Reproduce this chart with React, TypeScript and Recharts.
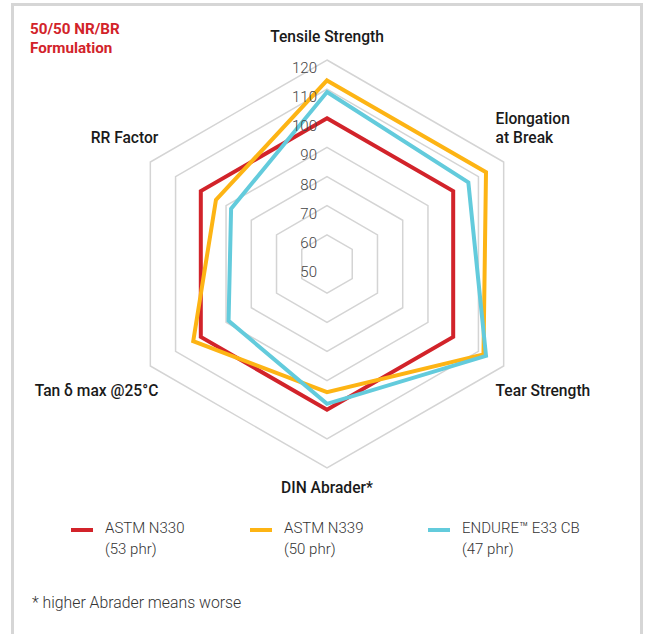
import React from 'react';
import { RadarChart, Radar, PolarGrid, PolarAngleAxis, PolarRadiusAxis } from 'recharts';

const categories = ['Tensile Strength', 'Elongation at Break', 'Tear Strength', 'DIN Abrader*', 'Tan δ max @25°C', 'RR Factor'];
const n330Values = [100, 100, 100, 100, 100, 100];
const n339Values = [113, 113, 112, 94, 103, 94];
const e33Values = [109, 106, 113, 98, 89, 88];
const radiusTicks = [50, 60, 70, 80, 90, 100, 110, 120];
const seriesNames = ['ASTM N330', 'ASTM N339', 'ENDURE™ E33 CB'];
const seriesSub = ['(53 phr)', '(50 phr)', '(47 phr)'];
const seriesColors = ['#d2232a', '#fdb414', '#63cbdc'];
const labelLines: Record<string, string[]> = {
  'Elongation at Break': ['Elongation', 'at Break'],
};

const data = categories.map((c, i) => ({
  cat: c,
  n330: n330Values[i],
  n339: n339Values[i],
  e33: e33Values[i],
}));
const keys = ['n330', 'n339', 'e33'];

const FONT = "Roboto, 'Noto Sans', sans-serif";

const AngleTick = (props: any) => {
  const { x, y, payload } = props;
  const ang = (payload.coordinate * Math.PI) / 180;
  const c = Math.cos(ang);
  const s = Math.sin(ang);
  const lines = labelLines[payload.value] || [payload.value];
  let anchor: 'start' | 'end' | 'middle' = 'middle';
  let dx = 0;
  let firstDy = 0;
  const lh = 19;
  if (c > 0.1) { anchor = 'start'; dx = -15; }
  else if (c < -0.1) { anchor = 'end'; dx = 15; }
  if (Math.abs(c) <= 0.1) {
    firstDy = s > 0 ? -15 : 12;
  } else if (s > 0) {
    firstDy = -20 - (lines.length - 1) * lh;
  } else {
    firstDy = 21;
  }
  return (
    <text x={x + dx} y={y} textAnchor={anchor} fontFamily={FONT} fontSize={15.6} fontWeight={500} fill="#1a1a1a">
      {lines.map((l, i) => (
        <tspan key={i} x={x + dx} y={y + firstDy + i * lh} dominantBaseline="central">{l}</tspan>
      ))}
    </text>
  );
};

const RadiusTick = (props: any) => {
  const { x, y, payload } = props;
  return (
    <text x={x - 10} y={y + 8} textAnchor="end" dominantBaseline="central" fontFamily={FONT} fontSize={15} fontWeight={300} fill="#444">
      {payload.value}
    </text>
  );
};

export default function App() {
  return (
    <div style={{ position: 'absolute', left: 0, top: 0, width: 647, height: 634, background: '#fff', overflow: 'hidden' }}>
      <div style={{ position: 'absolute', left: 11, top: 3, width: 626, height: 700, border: '3px solid #d6d6d6', borderBottom: 'none' }} />
      <div style={{ position: 'absolute', left: 30, top: 20, fontFamily: FONT, fontSize: 15.2, fontWeight: 700, lineHeight: '19.3px', color: '#d2232a' }}>
        50/50 NR/BR<br />Formulation
      </div>
      <div style={{ position: 'absolute', left: 0, top: 0 }}>
        <RadarChart width={647} height={500} data={data} cx={327} cy={264} outerRadius={204} margin={{ top: 0, right: 0, bottom: 0, left: 0 }}>
          <PolarGrid gridType="polygon" radialLines={false} stroke="#d4d4d4" strokeWidth={1.5} />
          <PolarAngleAxis dataKey="cat" tick={<AngleTick />} tickLine={false} axisLine={false} />
          <PolarRadiusAxis angle={90} domain={[50, 120]} ticks={radiusTicks} tickCount={8} axisLine={false} tickLine={false} tick={<RadiusTick />} />
          {keys.map((k, i) => (
            <Radar key={k} name={seriesNames[i]} dataKey={k} stroke={seriesColors[i]} strokeWidth={4} fill="none" fillOpacity={0} dot={false} isAnimationActive={false} />
          ))}
        </RadarChart>
      </div>
      {seriesNames.map((nm, i) => {
        const left = [71, 250, 428][i];
        return (
          <div key={nm} style={{ position: 'absolute', left, top: 517.5 }}>
            <div style={{ position: 'absolute', left: 0, top: 10.5, width: 22, height: 4, background: seriesColors[i] }} />
            <div style={{ position: 'absolute', left: 34, top: 0, whiteSpace: 'nowrap', fontFamily: FONT, fontSize: 15, fontWeight: 300, lineHeight: '21.7px', color: '#333' }}>
              {nm}<br />{seriesSub[i]}
            </div>
          </div>
        );
      })}
      <div style={{ position: 'absolute', left: 32, top: 592, whiteSpace: 'nowrap', fontFamily: FONT, fontSize: 15.8, fontWeight: 300, lineHeight: '22px', color: '#333' }}>
        * higher Abrader means worse
      </div>
    </div>
  );
}
